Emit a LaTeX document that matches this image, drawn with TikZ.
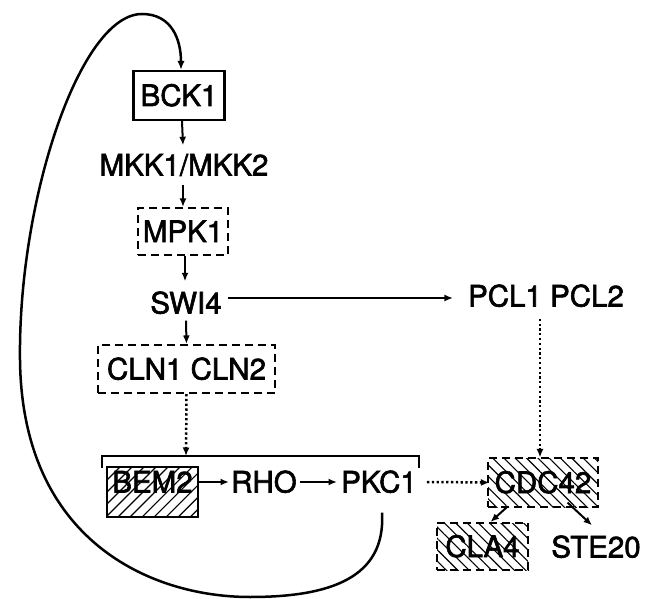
\documentclass[tikz,border=0pt]{standalone}
\usepackage{fontspec}
\setmainfont{TeX Gyre Heros}
\newfontfamily\labfont{TeX Gyre Heros}[FakeBold=2]
\usetikzlibrary{arrows.meta,patterns.meta}
\begin{document}
\begin{tikzpicture}[x=1pt,y=-1pt,
  lab/.style={font=\labfont\fontsize{29.5}{30}\selectfont, inner sep=0pt, text height=21pt, text depth=0pt},
  solidbox/.style={lab, draw, line width=2.3pt},
  dashbox/.style={lab, draw, line width=2.1pt, dash pattern=on 8pt off 5pt},
  hatchr/.style={pattern={Lines[angle=45,distance=8.5pt,line width=1.2pt]}},
  hatchl/.style={pattern={Lines[angle=-45,distance=8pt,line width=1.1pt]}},
  arr/.style={line width=2pt, -{Latex[length=8.5pt,width=7pt]}},
  dotarr/.style={arr, line width=2.5pt, dash pattern=on 2.3pt off 2.5pt},
  loopline/.style={line width=2.5pt, -{Latex[length=9pt,width=7.5pt]}}
]
\useasboundingbox (0,0) rectangle (651,599);

% main column
\node[solidbox, minimum width=91pt, minimum height=49pt] (bck) at (179,95.5) {BCK1};
\node[lab] (mkk) at (184,165) {MKK1/MKK2};
\node[dashbox, minimum width=90pt, minimum height=47pt] (mpk) at (183,231.5) {MPK1};
\node[lab] (swi) at (186,303) {SWI4};
\node[dashbox, minimum width=177pt, minimum height=48pt] (cln) at (186.5,369) {CLN1 CLN2};
\node[lab] (pcl) at (546,296) {PCL1 PCL2};

% bracket
\draw[line width=2.3pt] (102,468) -- (102,456) -- (419,456) -- (419,468);
\coordinate (brk) at (186,456);

% bottom row
\node[draw, line width=2.5pt, hatchr, minimum width=91pt, minimum height=50pt] (bembox) at (152.5,492) {};
\node[lab] (bem) at (152.5,482) {BEM2};
\node[lab] (rho) at (264,482) {RHO};
\node[lab] (pkc) at (379,482) {PKC1};
\node[dashbox, hatchl, minimum width=110pt, minimum height=49pt] (cdc) at (543,482.5) {CDC42};
\node[dashbox, hatchl, minimum width=91pt, minimum height=47pt] (cla) at (482.5,546.5) {CLA4};
\node[lab] (ste) at (596,547) {STE20};

% column arrows
\draw[arr] ([xshift=3pt]bck.south) -- ([xshift=-1pt,yshift=9pt]mkk.north);
\draw[arr] ([xshift=-1pt,yshift=-9pt]mkk.south) -- (mpk.north);
\draw[arr] ([xshift=2pt]mpk.south) -- ([xshift=-1pt,yshift=11pt]swi.north);
\draw[arr] ([yshift=-7pt]swi.south) -- (cln.north);
\draw[dotarr] (cln.south) -- (brk);

% SWI4 -> PCL
\draw[arr] ([xshift=6pt,yshift=5pt]swi.east) -- ([xshift=-15pt,yshift=-2pt]pcl.west);
\draw[dotarr] ([xshift=-6pt,yshift=-12pt]pcl.south) -- ([xshift=-3pt]cdc.north);

% row arrows
\draw[arr] (bembox.east |- bem.east) -- ([xshift=-2pt]rho.west);
\draw[arr] ([xshift=3pt]rho.east) -- ([xshift=-4pt]pkc.west);
\draw[dotarr] ([xshift=10pt]pkc.east) -- ([xshift=2pt]cdc.west);

% CDC42 branches
\draw[arr] ([xshift=19pt]cdc.south west) -- ([xshift=8pt]cla.north);
\draw[arr] ([xshift=-31pt,yshift=5pt]cdc.south east) -- ([xshift=-4pt,yshift=11pt]ste.north);

% feedback loop PKC1 -> BCK1
\draw[loopline] ([xshift=3pt,yshift=-20pt]pkc.south)
  .. controls (386,578) and (330,597) .. (250,597)
  .. controls (150,597) and (22,540) .. (20,360)
  .. controls (18,200) and (80,14) .. (142,14)
  .. controls (172,14) and (181,40) .. ([xshift=2pt]bck.north);
\end{tikzpicture}
\end{document}
